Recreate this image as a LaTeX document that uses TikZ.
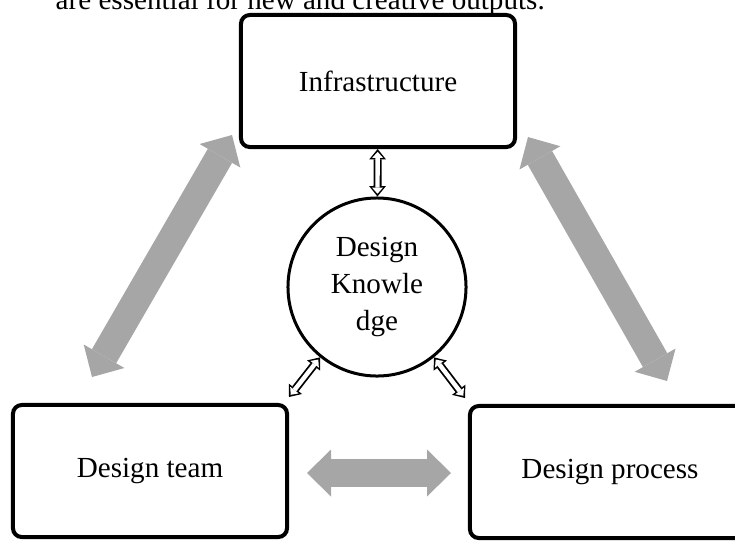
\documentclass[tikz,border=0pt]{standalone}
\usepackage{fontspec}
\setmainfont{Liberation Serif}
\usepackage{tikz}
\usetikzlibrary{arrows.meta}

\definecolor{arrowgray}{HTML}{A6A6A6}
\tikzset{
	block/.style={draw, line width=0.1cm, rounded corners=0.22cm, minimum width=6.85cm, minimum height=3.3cm},
	knowledge/.style={draw, circle, line width=0.075cm, minimum size=4.45cm, inner sep=0pt, align=center},
	bigarrow/.style={draw=arrowgray, line width=0.7cm, {Triangle[width=1.175cm, length=0.6cm, line width=0pt]}-{Triangle[width=1.175cm, length=0.6cm, line width=0pt]}},
	hollowarrow/.style={draw, line width=0.2cm, {Triangle[width=0.42cm, length=0.26cm, line width=0pt]}-{Triangle[width=0.42cm, length=0.26cm, line width=0pt]},
		postaction={draw=white, line width=0.11cm, shorten <=0.07cm, shorten >=0.07cm, {Triangle[width=0.27cm, length=0.15cm, line width=0pt]}-{Triangle[width=0.27cm, length=0.15cm, line width=0pt]}}}
}

\begin{document}
\begin{tikzpicture}[x=0.025cm, y=-0.025cm, font=\fontsize{20.7}{26.3}\selectfont]
	\useasboundingbox (0, 0) rectangle (735, 541);

	% line of text cut by the top edge
	\node[anchor=base east, inner sep=0pt] (topline) at (545, 9) {are essential for new and creative outputs.};

	\node[block] (infra) at (378, 81) {Infrastructure};
	\node[block] (team) at (150, 471) {Design team};
	\node[block, minimum width=7cm] (process) at (610, 472) {Design process};
	\node[knowledge] (know) at (377, 287) {Design\\Knowle\\dge};

	% gray arrows between the boxes
	\coordinate (tA) at (92, 377);
	\coordinate (iA) at (232, 135);
	\coordinate (iB) at (528, 137);
	\coordinate (pB) at (667, 381);
	\coordinate (tC) at (307, 473);
	\coordinate (pC) at (451, 473);
	\draw[bigarrow] (tA) -- (iA);
	\draw[bigarrow] (iB) -- (pB);
	\draw[bigarrow] (tC) -- (pC);

	% small arrows from the circle
	\coordinate (tD) at (289, 397);
	\coordinate (pD) at (465, 398);
	\draw[hollowarrow] (know) -- (infra);
	\draw[hollowarrow] (know.231) -- (tD);
	\draw[hollowarrow] (know.-51) -- (pD);
\end{tikzpicture}
\end{document}
